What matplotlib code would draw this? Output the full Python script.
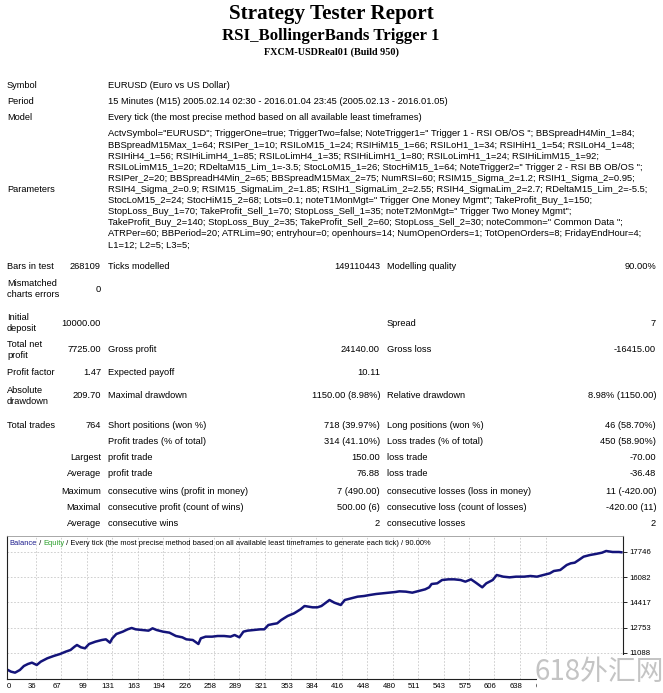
import matplotlib
matplotlib.use("Agg")
import matplotlib.pyplot as plt
import matplotlib.transforms as mtransforms
from matplotlib.patches import Rectangle

# --- report text ---
title_lines = ["Strategy Tester Report", "RSI_BollingerBands Trigger 1", "FXCM-USDReal01 (Build 950)"]

head_labels = ["Symbol", "Period", "Model"]
head_values = [
    "EURUSD (Euro vs US Dollar)",
    "15 Minutes (M15) 2005.02.14 02:30 - 2016.01.04 23:45 (2005.02.13 - 2016.01.05)",
    "Every tick (the most precise method based on all available least timeframes)",
]

param_lines = [
    'ActvSymbol="EURUSD"; TriggerOne=true; TriggerTwo=false; NoteTrigger1=" Trigger 1 - RSI OB/OS "; BBSpreadH4Min_1=84;',
    'BBSpreadM15Max_1=64; RSIPer_1=10; RSILoM15_1=24; RSIHiM15_1=66; RSILoH1_1=34; RSIHiH1_1=54; RSILoH4_1=48;',
    'RSIHiH4_1=56; RSIHiLimH4_1=85; RSILoLimH4_1=35; RSIHiLimH1_1=80; RSILoLimH1_1=24; RSIHiLimM15_1=92;',
    'RSILoLimM15_1=20; RDeltaM15_Lim_1=-3.5; StocLoM15_1=26; StocHiM15_1=64; NoteTrigger2=" Trigger 2 - RSI BB OB/OS ";',
    'RSIPer_2=20; BBSpreadH4Min_2=65; BBSpreadM15Max_2=75; NumRSI=60; RSIM15_Sigma_2=1.2; RSIH1_Sigma_2=0.95;',
    'RSIH4_Sigma_2=0.9; RSIM15_SigmaLim_2=1.85; RSIH1_SigmaLim_2=2.55; RSIH4_SigmaLim_2=2.7; RDeltaM15_Lim_2=-5.5;',
    'StocLoM15_2=24; StocHiM15_2=68; Lots=0.1; noteT1MonMgt=" Trigger One Money Mgmt"; TakeProfit_Buy_1=150;',
    'StopLoss_Buy_1=70; TakeProfit_Sell_1=70; StopLoss_Sell_1=35; noteT2MonMgt=" Trigger Two Money Mgmt";',
    'TakeProfit_Buy_2=140; StopLoss_Buy_2=35; TakeProfit_Sell_2=60; StopLoss_Sell_2=30; noteCommon=" Common Data ";',
    'ATRPer=60; BBPeriod=20; ATRLim=90; entryhour=0; openhours=14; NumOpenOrders=1; TotOpenOrders=8; FridayEndHour=4;',
    'L1=12; L2=5; L3=5;',
]

# label1, value1, label2, value2, label3, value3
stat_rows = [
    ("Bars in test", "268109", "Ticks modelled", "149110443", "Modelling quality", "90.00%"),
    ("Mismatched\ncharts errors", "0", "", "", "", ""),
    ("Initial\ndeposit", "10000.00", "", "", "Spread", "7"),
    ("Total net\nprofit", "7725.00", "Gross profit", "24140.00", "Gross loss", "-16415.00"),
    ("Profit factor", "1.47", "Expected payoff", "10.11", "", ""),
    ("Absolute\ndrawdown", "209.70", "Maximal drawdown", "1150.00 (8.98%)", "Relative drawdown", "8.98% (1150.00)"),
    ("Total trades", "764", "Short positions (won %)", "718 (39.97%)", "Long positions (won %)", "46 (58.70%)"),
    ("", "", "Profit trades (% of total)", "314 (41.10%)", "Loss trades (% of total)", "450 (58.90%)"),
    ("", "Largest", "profit trade", "150.00", "loss trade", "-70.00"),
    ("", "Average", "profit trade", "76.88", "loss trade", "-36.48"),
    ("", "Maximum", "consecutive wins (profit in money)", "7 (490.00)", "consecutive losses (loss in money)", "11 (-420.00)"),
    ("", "Maximal", "consecutive profit (count of wins)", "500.00 (6)", "consecutive loss (count of losses)", "-420.00 (11)"),
    ("", "Average", "consecutive wins", "2", "consecutive losses", "2"),
]

# --- balance curve ---
trade_no = [0, 5, 10, 16, 21, 26, 31, 37, 42, 50, 58, 66, 73, 79, 84, 87, 92, 97, 102, 110,
            118, 123, 128, 131, 136, 144, 150, 155, 160, 168, 176, 181, 186, 194, 202, 210, 218, 223, 231, 238,
            241, 247, 255, 262, 270, 278, 283, 289, 294, 299, 307, 315, 320, 325, 331, 336, 341, 349, 357, 365,
            370, 375, 380, 386, 391, 401, 407, 415, 420, 428, 436, 444, 451, 459, 467, 475, 483, 488, 496, 504,
            512, 520, 525, 528, 535, 541, 549, 556, 564, 570, 577, 583, 591, 596, 604, 609, 617, 625, 633, 643,
            651, 659, 667, 675, 680, 688, 696, 701, 706, 711, 717, 725, 732, 740, 745, 753, 761, 764]
balance = [10000, 9858, 9792, 9968, 10231, 10363, 10451, 10297, 10517, 10736, 10890, 11022, 11176, 11286, 11505, 11615, 11461, 11395, 11681, 11835,
           11945, 11989, 11769, 12055, 12340, 12494, 12648, 12736, 12648, 12604, 12560, 12714, 12604, 12494, 12428, 12208, 12120, 11989, 11945, 11681,
           12055, 12164, 12164, 12208, 12208, 12164, 12274, 12120, 12494, 12560, 12604, 12648, 12648, 12933, 12999, 13043, 13262, 13526, 13702, 13966,
           14185, 14141, 14097, 14097, 14185, 14581, 14405, 14251, 14581, 14691, 14800, 14844, 14910, 14976, 15020, 15064, 15108, 15152, 15130, 15064,
           15174, 15284, 15415, 15635, 15679, 15898, 15942, 15942, 15898, 15789, 15942, 15723, 15415, 15679, 15898, 16228, 16118, 16074, 16118, 16118,
           16162, 16118, 16228, 16338, 16492, 16558, 16887, 16997, 17041, 17217, 17436, 17546, 17612, 17700, 17810, 17744, 17744, 17725]

x_ticks = [0, 36, 67, 99, 131, 163, 194, 226, 258, 289, 321, 353, 384, 416, 448, 480, 511, 543, 575, 606, 638, 670]
y_ticks = [11088, 12753, 14417, 16082, 17746]

W, H = 663, 693
fig = plt.figure(figsize=(W / 100, H / 100), dpi=100)


def put(x, y, s, **kw):
    # place text using pixel coords from the top-left corner
    kw.setdefault("family", "Liberation Sans")
    kw.setdefault("fontsize", 6.7)
    kw.setdefault("va", "center")
    return fig.text(x / W, 1 - y / H, s, **kw)


# titles
serif = dict(family="Liberation Serif", weight="bold", va="baseline", ha="center")
put(331, 18.5, title_lines[0], fontsize=15.2, **serif)
put(331, 40.5, title_lines[1], fontsize=12.1, **serif)
put(331, 55, title_lines[2], fontsize=7.3, **serif)

# header block
for i, (lab, val) in enumerate(zip(head_labels, head_values)):
    y = 86 + i * 15.5
    put(7, y, lab)
    put(108, y, val)

put(7, 190, "Parameters")
for i, line in enumerate(param_lines):
    put(108, 134 + i * 11.1, line, fontsize=6.75)

# stats table
row_y = [267, 289, 323, 350, 373, 396, 425, 441, 458, 474, 491, 508, 524]
for y, row in zip(row_y, stat_rows):
    l1, v1, l2, v2, l3, v3 = row
    put(7, y, l1, linespacing=1.2)
    put(101, y, v1, ha="right")
    put(108, y, l2)
    put(380, y, v2, ha="right")
    put(387, y, l3)
    put(656, y, v3, ha="right")

# balance chart
left, right, top, bottom = 7, 623, 536, 679
ax = fig.add_axes([left / W, 1 - bottom / H, (right - left) / W, (bottom - top) / H])
ax.plot(trade_no, balance, color="#14147a", lw=1.8)
ax.set_xlim(0, 766)
ax.set_ylim(9374, 18798)
ax.set_xticks(x_ticks)
ax.set_xticklabels([str(v) for v in x_ticks])
ax.set_yticks(y_ticks)
ax.set_yticklabels([str(v) for v in y_ticks])
ax.yaxis.tick_right()
ax.tick_params(axis="y", length=3, width=0.6, pad=1.5, labelsize=5.6)
ax.tick_params(axis="x", length=0, pad=3, labelsize=5.6)
for lab in ax.get_xticklabels() + ax.get_yticklabels():
    lab.set_fontfamily("Liberation Sans")

# MT4 puts the trade labels a little left of their grid lines
xlabels = ax.get_xticklabels()
xlabels[0].set_transform(xlabels[0].get_transform() + mtransforms.ScaledTranslation(0.02, 0, fig.dpi_scale_trans))
for lab in xlabels[1:]:
    lab.set_transform(lab.get_transform() + mtransforms.ScaledTranslation(-0.04, 0, fig.dpi_scale_trans))
# the last label is cut by the watermark box
clip = mtransforms.Bbox.from_extents(0, 0, 537, H)
xlabels[-1].set_clip_box(mtransforms.TransformedBbox(clip, mtransforms.IdentityTransform()))
xlabels[-1].set_clip_on(True)

ax.grid(True, color="#c8c8c8", lw=0.6, linestyle=(0, (2, 2)))
for side in ["left", "bottom", "right"]:
    ax.spines[side].set_color("#202020")
    ax.spines[side].set_linewidth(0.8)
ax.spines["top"].set_color("#9a9a9a")
ax.spines["top"].set_linewidth(0.6)

# legend line inside the chart
fs = 5.4
t1 = ax.text(0.004, 0.975, "Balance", transform=ax.transAxes, color="#1a1a8c",
             fontsize=fs, family="Liberation Sans", va="top", ha="left")
t2 = ax.annotate(" / ", xy=(1, 0), xycoords=t1, va="bottom", ha="left", fontsize=fs,
                 family="Liberation Sans", color="black")
t3 = ax.annotate("Equity", xy=(1, 0), xycoords=t2, va="bottom", ha="left", fontsize=fs,
                 family="Liberation Sans", color="#2ca02c")
ax.annotate(" / Every tick (the most precise method based on all available least timeframes to generate each tick) / 90.00%",
            xy=(1, 0), xycoords=t3, va="bottom", ha="left", fontsize=fs,
            family="Liberation Sans", color="black")

# watermark in the bottom-right corner
fig.patches.append(Rectangle((537 / W, 0), (W - 537) / W, (H - 655) / H, transform=fig.transFigure,
                             facecolor="white", edgecolor="none", zorder=5))
fig.text(599 / W, 1 - 672 / H, "618外汇网", family=["Noto Sans CJK SC", "DejaVu Sans"],
         fontsize=20, color="#c4c4c4", ha="center", va="center", zorder=6)

fig.savefig("out.png", dpi=100)
